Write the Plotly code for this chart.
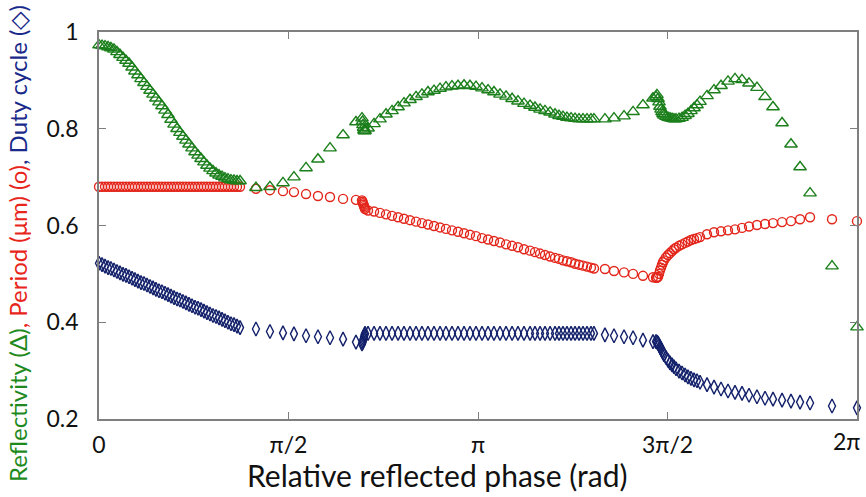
import numpy as np
import plotly.graph_objects as go

# Relative reflected phase of each grating design (rad)
phase = [
    0.000, 0.025, 0.050, 0.075, 0.099, 0.124, 0.149, 0.174, 0.199, 0.224, 0.249, 0.274,
    0.298, 0.323, 0.348, 0.373, 0.398, 0.423, 0.448, 0.472, 0.497, 0.522, 0.547, 0.572,
    0.597, 0.622, 0.647, 0.671, 0.696, 0.721, 0.746, 0.771, 0.796, 0.821, 0.846, 0.870,
    0.895, 0.920, 0.945, 0.970, 0.995, 1.020, 1.044, 1.069, 1.094, 1.119, 1.144, 1.169,
    1.301, 1.417, 1.525, 1.616, 1.716, 1.815, 1.915, 2.023, 2.130,
    2.180, 2.184, 2.188, 2.193, 2.197, 2.201, 2.205,
    2.230, 2.280, 2.329, 2.379, 2.429, 2.479, 2.528, 2.578, 2.628, 2.677, 2.727, 2.777,
    2.827, 2.876, 2.926, 2.976, 3.026, 3.075, 3.125, 3.175, 3.225, 3.274, 3.324, 3.374,
    3.424, 3.473, 3.523, 3.573, 3.614, 3.656, 3.697, 3.739, 3.780, 3.813, 3.846, 3.879,
    3.913, 3.946, 3.979, 4.012, 4.045, 4.078, 4.103,
    4.194, 4.269, 4.352, 4.427, 4.509, 4.592,
    4.617, 4.625, 4.634, 4.642, 4.650, 4.659, 4.667, 4.675, 4.683, 4.700, 4.717, 4.733,
    4.750, 4.766, 4.783, 4.808, 4.833, 4.858, 4.882, 4.907, 4.932, 4.957, 4.982,
    5.040, 5.098, 5.156, 5.214, 5.272, 5.330, 5.388, 5.454, 5.521, 5.587, 5.662, 5.736,
    5.811, 5.894, 6.076, 6.283,
]

reflectivity = [
    0.973, 0.972, 0.971, 0.969, 0.967, 0.964, 0.959, 0.953, 0.947, 0.941, 0.935, 0.927,
    0.919, 0.911, 0.903, 0.895, 0.887, 0.879, 0.871, 0.863, 0.855, 0.847, 0.838, 0.829,
    0.819, 0.809, 0.800, 0.792, 0.784, 0.776, 0.768, 0.760, 0.752, 0.745, 0.738, 0.731,
    0.724, 0.718, 0.713, 0.708, 0.704, 0.701, 0.698, 0.696, 0.694, 0.693, 0.692, 0.692,
    0.678, 0.680, 0.688, 0.700, 0.719, 0.737, 0.760, 0.787, 0.814,
    0.822, 0.815, 0.808, 0.802, 0.797, 0.795, 0.796,
    0.801, 0.810, 0.820, 0.830, 0.837, 0.845, 0.853, 0.860, 0.866, 0.871, 0.876, 0.879,
    0.883, 0.886, 0.888, 0.889, 0.890, 0.889, 0.887, 0.884, 0.880, 0.876, 0.871, 0.867,
    0.862, 0.857, 0.852, 0.848, 0.844, 0.840, 0.837, 0.834, 0.830, 0.827, 0.825, 0.823,
    0.822, 0.821, 0.820, 0.820, 0.820, 0.820, 0.820,
    0.820, 0.822, 0.826, 0.835, 0.849, 0.863,
    0.866, 0.870, 0.862, 0.855, 0.846, 0.840, 0.835, 0.831, 0.828, 0.825, 0.823, 0.822,
    0.821, 0.820, 0.820, 0.821, 0.823, 0.827, 0.831, 0.837, 0.843, 0.849, 0.856,
    0.868, 0.880, 0.889, 0.898, 0.903, 0.901, 0.894, 0.885, 0.866, 0.845, 0.812, 0.768,
    0.721, 0.667, 0.516, 0.390,
]

period_um = [
    0.680, 0.680, 0.680, 0.680, 0.680, 0.680, 0.680, 0.680, 0.680, 0.680, 0.680, 0.680,
    0.680, 0.680, 0.680, 0.680, 0.680, 0.680, 0.680, 0.680, 0.680, 0.680, 0.680, 0.680,
    0.680, 0.680, 0.680, 0.680, 0.680, 0.680, 0.680, 0.680, 0.680, 0.680, 0.680, 0.680,
    0.680, 0.680, 0.680, 0.680, 0.680, 0.680, 0.680, 0.680, 0.680, 0.680, 0.680, 0.680,
    0.676, 0.673, 0.671, 0.669, 0.665, 0.661, 0.659, 0.655, 0.653,
    0.652, 0.649, 0.646, 0.643, 0.640, 0.637, 0.634,
    0.631, 0.629, 0.626, 0.623, 0.620, 0.617, 0.614, 0.611, 0.608, 0.605, 0.602, 0.599,
    0.596, 0.593, 0.590, 0.587, 0.584, 0.581, 0.578, 0.574, 0.571, 0.568, 0.565, 0.561,
    0.558, 0.555, 0.551, 0.548, 0.545, 0.542, 0.539, 0.536, 0.533, 0.531, 0.528, 0.526,
    0.524, 0.521, 0.519, 0.517, 0.515, 0.513, 0.511,
    0.510, 0.506, 0.503, 0.500, 0.496, 0.493,
    0.492, 0.492, 0.494, 0.500, 0.507, 0.513, 0.519, 0.524, 0.528, 0.534, 0.539, 0.543,
    0.547, 0.551, 0.554, 0.558, 0.561, 0.564, 0.567, 0.570, 0.572, 0.574, 0.576,
    0.582, 0.586, 0.588, 0.590, 0.592, 0.595, 0.598, 0.601, 0.603, 0.605, 0.607, 0.609,
    0.613, 0.617, 0.613, 0.609,
]

duty_cycle = [
    0.522, 0.519, 0.516, 0.513, 0.511, 0.508, 0.505, 0.502, 0.499, 0.497, 0.494, 0.491,
    0.488, 0.485, 0.482, 0.480, 0.477, 0.474, 0.471, 0.468, 0.465, 0.463, 0.460, 0.457,
    0.454, 0.451, 0.448, 0.446, 0.443, 0.440, 0.437, 0.434, 0.431, 0.429, 0.426, 0.423,
    0.420, 0.417, 0.414, 0.412, 0.409, 0.406, 0.403, 0.400, 0.397, 0.395, 0.392, 0.389,
    0.386, 0.381, 0.378, 0.376, 0.372, 0.370, 0.368, 0.365, 0.359,
    0.355, 0.358, 0.362, 0.366, 0.370, 0.374, 0.377,
    0.377, 0.377, 0.377, 0.377, 0.377, 0.377, 0.377, 0.377, 0.377, 0.377, 0.377, 0.377,
    0.377, 0.377, 0.377, 0.377, 0.377, 0.377, 0.377, 0.377, 0.377, 0.377, 0.377, 0.377,
    0.377, 0.377, 0.377, 0.377, 0.377, 0.377, 0.377, 0.377, 0.377, 0.377, 0.377, 0.377,
    0.377, 0.377, 0.377, 0.377, 0.377, 0.377, 0.377,
    0.374, 0.372, 0.370, 0.368, 0.363, 0.360,
    0.360, 0.359, 0.357, 0.353, 0.349, 0.345, 0.341, 0.337, 0.333, 0.327, 0.321, 0.316,
    0.312, 0.308, 0.304, 0.299, 0.295, 0.291, 0.287, 0.284, 0.281, 0.279, 0.276,
    0.271, 0.266, 0.262, 0.258, 0.255, 0.253, 0.249, 0.246, 0.243, 0.241, 0.239, 0.237,
    0.235, 0.233, 0.227, 0.223,
]

x_tick_vals = [0, np.pi / 2, np.pi, 3 * np.pi / 2, 2 * np.pi]
x_tick_text = ["0", "π/2", "π", "3π/2", "2π"]
y_tick_vals = [0.2, 0.4, 0.6, 0.8, 1.0]
y_tick_text = ["0.2", "0.4", "0.6", "0.8", "1"]

GREEN = "#1b7f1b"
RED = "#e3261b"
NAVY = "#13216b"
FONT = "Lato"
TICK_FONT = dict(family=FONT, size=23, color="#111111")

fig = go.Figure()
for values, symbol, color, size in [
    (duty_cycle, "diamond-tall-open", NAVY, 10),
    (period_um, "circle-open", RED, 9),
    (reflectivity, "triangle-up-open", GREEN, 11),
]:
    fig.add_trace(go.Scatter(
        x=phase, y=values, mode="markers", cliponaxis=False, showlegend=False,
        marker=dict(symbol=symbol, size=size, color=color, line=dict(color=color, width=1.4)),
    ))

axis_common = dict(
    showgrid=False, zeroline=False, showline=True, linecolor="#7f7f7f", linewidth=1.5,
    mirror="ticks", ticks="inside", ticklen=7, tickwidth=1.2, tickcolor="#7f7f7f",
    tickfont=TICK_FONT, automargin=False,
)

# the last phase label sits at the right page edge, so it is right-aligned there
x_labels_in_axis = x_tick_text[:-1] + [""]

y_title = (
    f'<span style="color:#1e8a1e">Reflectivity (Δ)</span>'
    f'<span style="color:#e8251a">, Period (μm) (o)</span>'
    f'<span style="color:#1a2a8a">, Duty cycle (◇)</span>'
)

fig.update_layout(
    width=866, height=497,
    margin=dict(l=99, r=9, t=32, b=78, autoexpand=False),
    paper_bgcolor="white", plot_bgcolor="white",
    xaxis=dict(
        range=[0, 2 * np.pi], tickvals=x_tick_vals, ticktext=x_labels_in_axis,
        ticklabelstandoff=5,
        **axis_common,
    ),
    yaxis=dict(
        range=[0.2, 1.0], tickvals=y_tick_vals, ticktext=y_tick_text,
        ticklabelstandoff=14,
        **axis_common,
    ),
    annotations=[
        dict(text=x_tick_text[-1], xref="x", yref="paper", x=x_tick_vals[-1], y=0,
             xanchor="right", yanchor="top", xshift=6, yshift=-6, showarrow=False,
             font=TICK_FONT),
        dict(text="Relative reflected phase (rad)", xref="paper", yref="paper",
             x=(437 - 99) / 758, y=-(475 - 419) / 387, xanchor="center", yanchor="middle",
             showarrow=False, font=dict(family=FONT, size=30, color="#111111")),
        dict(text=y_title, xref="paper", yref="paper", textangle=-90,
             x=-(99 - 17) / 758, y=(419 - 244) / 387, xanchor="center", yanchor="middle",
             showarrow=False, font=dict(family=FONT, size=24)),
    ],
)

fig.write_html("out.html")
